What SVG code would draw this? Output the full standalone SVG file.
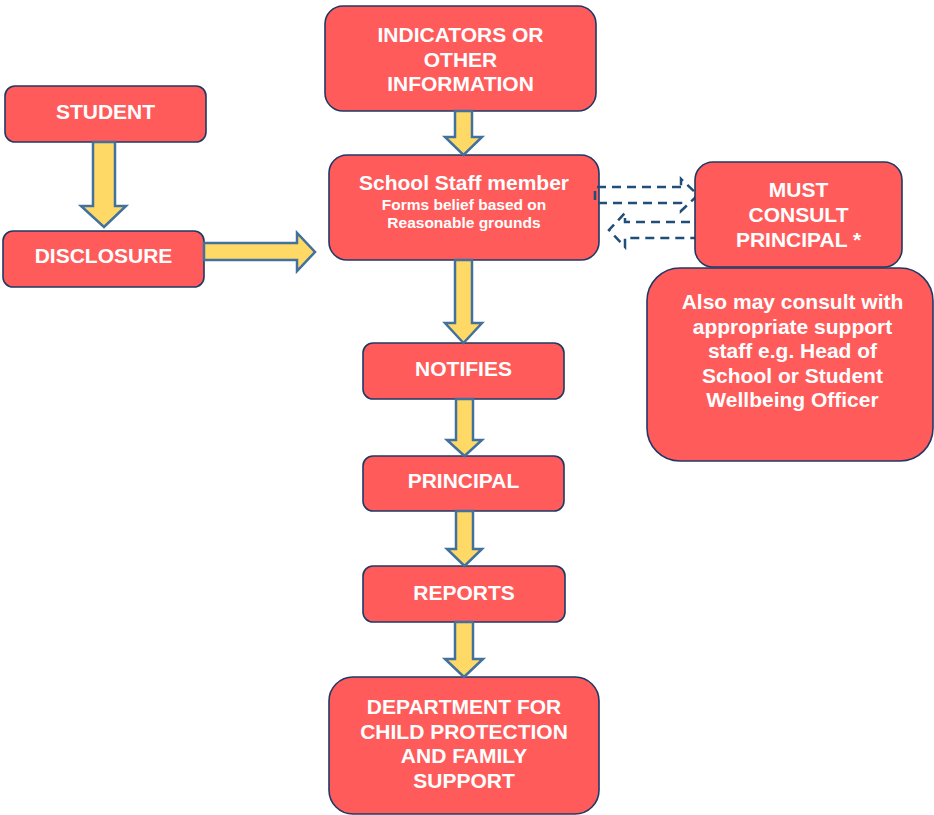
<svg xmlns="http://www.w3.org/2000/svg" width="934" height="815" viewBox="0 0 934 815">
<style>
.node{fill:#FF5B5B;stroke:#203864;stroke-width:1.6}
.t{fill:#FFFFFF;font-family:"Liberation Sans",Arial,sans-serif;font-weight:bold;font-size:21px;text-anchor:middle}
.s{font-size:15.5px}
.blk{fill:#FFD966;stroke:#41719C;stroke-width:2.5;stroke-linejoin:miter}
.dash{fill:none;stroke:#1F4E79;stroke-width:2.5;stroke-dasharray:9 6}
</style>
<rect width="934" height="815" fill="#FFFFFF"/>
<g id="student">
<rect class="node" x="5" y="86" width="201" height="56" rx="10"/>
<text class="t" x="105.5" y="119">STUDENT</text>
</g>
<g id="disclosure">
<rect class="node" x="3" y="231" width="201" height="56" rx="10"/>
<text class="t" x="103.5" y="263">DISCLOSURE</text>
</g>
<g id="indicators">
<rect class="node" x="325" y="6" width="271" height="105" rx="18"/>
<text class="t" x="460.5" y="42">INDICATORS OR</text>
<text class="t" x="460.5" y="67">OTHER</text>
<text class="t" x="460.5" y="91">INFORMATION</text>
</g>
<g id="staff">
<rect class="node" x="329" y="155" width="270" height="105" rx="18"/>
<text class="t" x="464" y="190">School Staff member</text>
<text class="t s" x="464" y="210">Forms belief based on</text>
<text class="t s" x="464" y="228">Reasonable grounds</text>
</g>
<g id="notifies">
<rect class="node" x="363" y="343" width="201" height="56" rx="10"/>
<text class="t" x="463.5" y="376">NOTIFIES</text>
</g>
<g id="principal">
<rect class="node" x="363" y="456" width="201" height="55" rx="10"/>
<text class="t" x="463.5" y="488">PRINCIPAL</text>
</g>
<g id="reports">
<rect class="node" x="363" y="566" width="202" height="56" rx="10"/>
<text class="t" x="464" y="600">REPORTS</text>
</g>
<g id="department">
<rect class="node" x="329" y="677" width="270" height="137" rx="24"/>
<text class="t" x="464" y="714">DEPARTMENT FOR</text>
<text class="t" x="464" y="739">CHILD PROTECTION</text>
<text class="t" x="464" y="763">AND FAMILY</text>
<text class="t" x="464" y="788">SUPPORT</text>
</g>
<g id="connectors">
<polygon class="blk" points="93,142 115,142 115,206 126,206 104,227 81,206 93,206"/>
<polygon class="blk" points="204,243 297,243 297,233 315,252 297,271 297,260 204,260"/>
<polygon class="blk" points="455,111 472,111 472,137 482,137 463.5,155 445,137 455,137"/>
<polygon class="blk" points="455,260 472,260 472,323 482,323 463.5,343 445,323 455,323"/>
<polygon class="blk" points="456,399 473,399 473,440 482,440 464.5,456 447,440 456,440"/>
<polygon class="blk" points="456,511 473,511 473,549 482,549 464.5,566 447,549 456,549"/>
<polygon class="blk" points="455,622 473,622 473,659 483,659 464,677 445,659 455,659"/>
<path class="dash" d="M681,187 L595,187 L595,203 L681,203 L681,211 L698,195 L681,179 Z"/>
<path class="dash" d="M705,222 L625,222 L625,213 L609,230 L625,247 L625,238 L705,238"/>
</g>
<g id="must-consult">
<rect class="node" x="695" y="162" width="207" height="105" rx="18"/>
<text class="t" x="798.5" y="197">MUST</text>
<text class="t" x="798.5" y="222">CONSULT</text>
<text class="t" x="798.5" y="247">PRINCIPAL *</text>
</g>
<g id="also-consult">
<rect class="node" x="647" y="268" width="286" height="193" rx="33"/>
<text class="t" x="792.5" y="309">Also may consult with</text>
<text class="t" x="792.5" y="334">appropriate support</text>
<text class="t" x="792.5" y="358">staff e.g. Head of</text>
<text class="t" x="792.5" y="383">School or Student</text>
<text class="t" x="792.5" y="407">Wellbeing Officer</text>
</g>
</svg>
